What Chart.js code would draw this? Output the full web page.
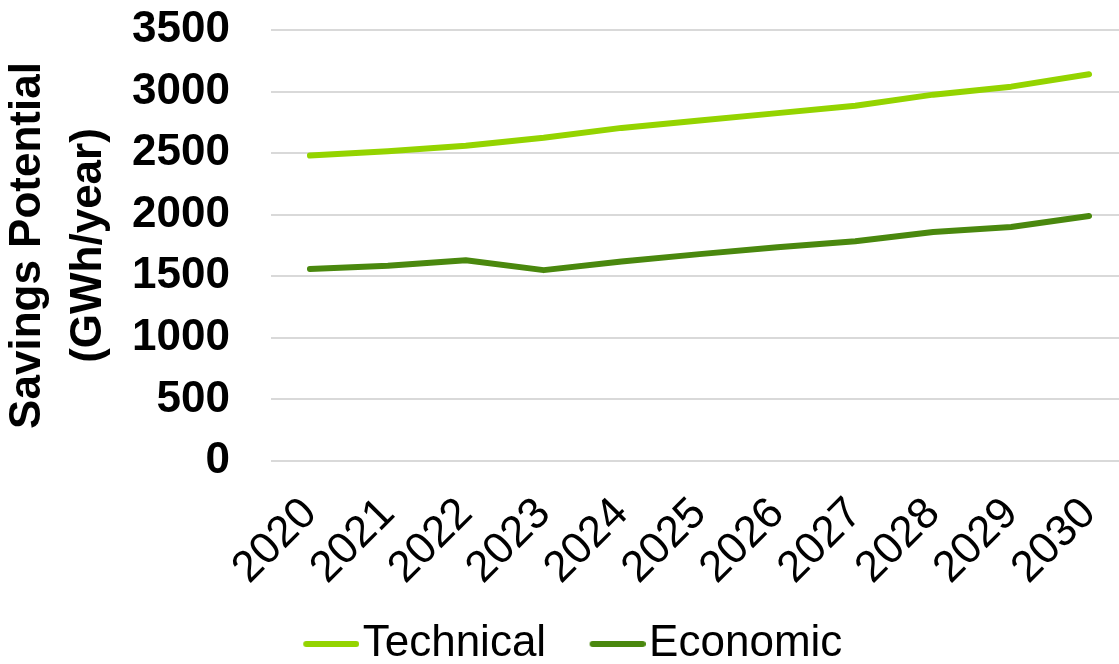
<!DOCTYPE html>
<html>
<head>
<meta charset="utf-8">
<title>Savings Potential</title>
<script src="https://cdn.jsdelivr.net/npm/chart.js@4.4.1/dist/chart.umd.min.js"></script>
<style>
  html, body { margin: 0; padding: 0; background: #ffffff; overflow: hidden; }
  #wrap { position: relative; width: 1128px; height: 664px; }
</style>
</head>
<body>
<div id="wrap"><canvas id="savingsChart"></canvas></div>
<script>
const years = ['2020', '2021', '2022', '2023', '2024', '2025', '2026', '2027', '2028', '2029', '2030'];
const technical = [2480, 2515, 2560, 2625, 2705, 2765, 2825, 2885, 2975, 3040, 3140];
const economic = [1560, 1585, 1630, 1550, 1620, 1680, 1735, 1785, 1860, 1900, 1990];
const yTicks = [0, 500, 1000, 1500, 2000, 2500, 3000, 3500];

const technicalColor = '#94d400';
const economicColor = '#4a880e';
const fontFamily = '"Liberation Sans", Arial, sans-serif';

// legend marker: a short thick line sitting in the right part of the box
function makeLegendLine(color)
{
  const c = document.createElement('canvas');
  c.width = 110;
  c.height = 8;
  const g = c.getContext('2d');
  g.strokeStyle = color;
  g.lineWidth = 6;
  g.lineCap = 'round';
  g.beginPath();
  g.moveTo(57, 4);
  g.lineTo(107, 4);
  g.stroke();
  return c;
}

let ctx = document.getElementById('savingsChart').getContext('2d');

// tick marks are kept but invisible, their length spaces the labels from the plot
const savingsChart = new Chart(ctx,
  {
    type: 'line',
    data:
    {
      labels: years,
      datasets:
        [{
          label: 'Technical',
          data: technical,
          borderColor: technicalColor,
          backgroundColor: technicalColor,
          borderWidth: 6,
          borderCapStyle: 'round',
          borderJoinStyle: 'round',
          tension: 0,
          pointRadius: 0,
          pointHoverRadius: 0,
          pointStyle: makeLegendLine(technicalColor),
          fill: false
        },
        {
          label: 'Economic',
          data: economic,
          borderColor: economicColor,
          backgroundColor: economicColor,
          borderWidth: 6,
          borderCapStyle: 'round',
          borderJoinStyle: 'round',
          tension: 0,
          pointRadius: 0,
          pointHoverRadius: 0,
          pointStyle: makeLegendLine(economicColor),
          fill: false
        }]
    },
    options:
    {
      responsive: true,
      maintainAspectRatio: false,
      animation: false,
      layout:
      {
        padding: { top: 30, left: -18, right: 0, bottom: -12 }
      },
      scales:
      {
        x:
        {
          offset: true,
          grid:
          {
            color: 'rgba(0,0,0,0)',
            tickColor: 'rgba(0,0,0,0)',
            drawTicks: true,
            tickLength: 27
          },
          border: { display: false },
          ticks:
          {
            autoSkip: false,
            maxRotation: 45,
            minRotation: 45,
            padding: 0,
            color: '#000000',
            font: { family: fontFamily, size: 44 }
          },
          afterFit: (scale) => { scale.height = 153; }
        },
        y:
        {
          min: 0,
          max: 3500,
          afterBuildTicks: (scale) => { scale.ticks = yTicks.map(v => ({ value: v })); },
          grid:
          {
            color: '#d9d9d9',
            lineWidth: 2,
            drawTicks: true,
            tickLength: 41,
            tickColor: 'rgba(0,0,0,0)'
          },
          border: { display: false },
          ticks:
          {
            padding: 0,
            color: '#000000',
            font: { family: fontFamily, size: 44, weight: 'bold' },
            callback: (value) => String(value)
          },
          title:
          {
            display: true,
            text: ['Savings Potential', '(GWh/year)'],
            color: '#000000',
            font: { family: fontFamily, size: 44, weight: 'bold', lineHeight: 1.386 },
            padding: { top: 15, bottom: 13 }
          },
          afterFit: (scale) => { scale.width = 289; }
        }
      },
      plugins:
      {
        legend:
        {
          display: true,
          position: 'bottom',
          labels:
          {
            usePointStyle: true,
            pointStyleWidth: 73,
            padding: 8,
            color: '#000000',
            font: { family: fontFamily, size: 44 }
          }
        },
        tooltip: { enabled: false }
      }
    }
  });
</script>
</body>
</html>
